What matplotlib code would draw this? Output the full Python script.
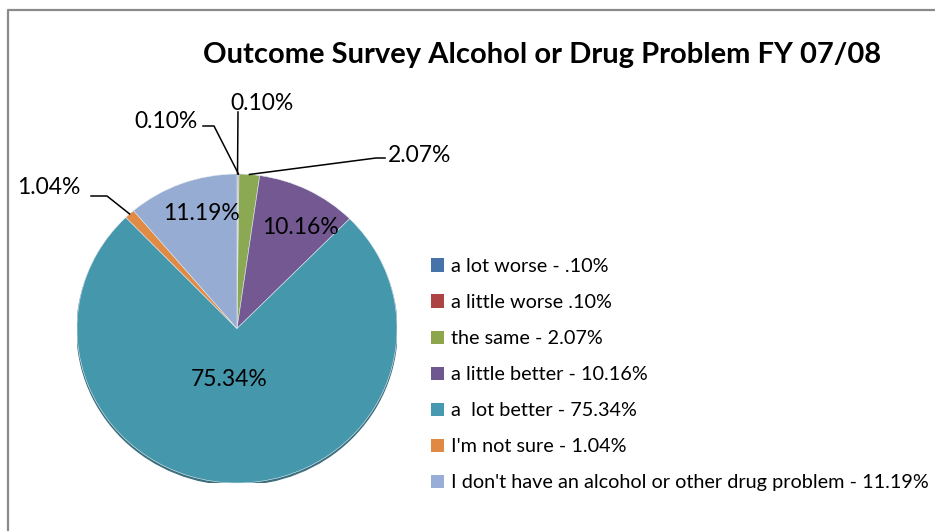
import matplotlib

matplotlib.use("Agg")
import matplotlib.pyplot as plt  # noqa: E402
import numpy as np  # noqa: E402
from matplotlib.lines import Line2D  # noqa: E402
from matplotlib.patches import Ellipse, Patch  # noqa: E402

# data
categories = [
    "a lot worse - .10%",
    "a little worse .10%",
    "the same - 2.07%",
    "a little better - 10.16%",
    "a  lot better - 75.34%",
    "I'm not sure - 1.04%",
    "I don't have an alcohol or other drug problem - 11.19%",
]
shares = [0.10, 0.10, 2.07, 10.16, 75.34, 1.04, 11.19]
pct_labels = ["0.10%", "0.10%", "2.07%", "10.16%", "75.34%", "1.04%", "11.19%"]

pie_colors = ["#4470a6", "#b04845", "#8ba852", "#735892", "#4597ac", "#e08a43", "#97acd2"]
legend_colors = ["#4673a9", "#ad4444", "#8da64c", "#6f578f", "#4699b1", "#e08943", "#98aed6"]

W, H = 935, 531
FONT = "Lato"

fig = plt.figure(figsize=(W / 100, H / 100), dpi=100)

# pie drawn slightly squashed, like the Excel original
ax = fig.add_axes([77 / W, 1 - 483 / H, 320 / W, 309 / H])
ax.add_patch(Ellipse((0, -0.012), 2.0, 2.0, color="#3b6f7e", zorder=0))
wedges, _ = ax.pie(
    shares,
    colors=pie_colors,
    startangle=90,
    counterclock=False,
    radius=1,
    wedgeprops=dict(edgecolor="#e8eef5", linewidth=0.4),
)
ax.set_aspect("auto")
ax.set_xlim(-1, 1)
ax.set_ylim(-1, 1)
ax.axis("off")

# overlay in pixel coords (y down) for text, leaders, frame and legend
ov = fig.add_axes([0, 0, 1, 1], zorder=5)
ov.set_xlim(0, W)
ov.set_ylim(H, 0)
ov.axis("off")

# chart frame (only left and top edges visible)
ov.add_line(Line2D([8, 8, W + 5], [H + 5, 9.5, 9.5], color="#8a8a8a", lw=1.6))

ov.text(542, 55, "Outcome Survey Alcohol or Drug Problem FY 07/08",
        ha="center", va="center", fontsize=21, fontweight="bold", family=FONT)

# label placement: text centre and leader elbows in pixels
label_pos = {
    0: ((262, 103), [(238, 112)]),
    1: ((166, 121), [(203, 126), (214, 126)]),
    2: ((420, 156), [(385, 158), (376, 158)]),
    3: ((300, 227), None),
    4: ((229, 380), None),
    5: ((49, 188), [(91, 196), (107, 196)]),
    6: ((201, 214), None),
}

total = sum(shares)
cum = 0.0
to_ov = ov.transData.inverted()
for i, s in enumerate(shares):
    mid = np.deg2rad(90 - 360 * (cum + s / 2) / total)
    cum += s
    (tx, ty), elbows = label_pos[i]
    ov.text(tx, ty, pct_labels[i], ha="center", va="center", fontsize=16.5, family=FONT)
    if elbows:
        edge = to_ov.transform(ax.transData.transform((np.cos(mid), np.sin(mid))))
        xs = [p[0] for p in elbows] + [edge[0]]
        ys = [p[1] for p in elbows] + [edge[1]]
        ov.add_line(Line2D(xs, ys, color="black", lw=1.1))

handles = [Patch(facecolor=c, edgecolor="none") for c in legend_colors]
ov.legend(
    handles,
    categories,
    loc="upper left",
    bbox_to_anchor=(431, 258),
    bbox_transform=ov.transData,
    frameon=False,
    prop={"family": FONT, "size": 14.3},
    handlelength=0.65,
    handleheight=0.65,
    handletextpad=0.35,
    labelspacing=0.96,
    borderaxespad=0,
    borderpad=0,
)

fig.savefig("out.png", dpi=100)
